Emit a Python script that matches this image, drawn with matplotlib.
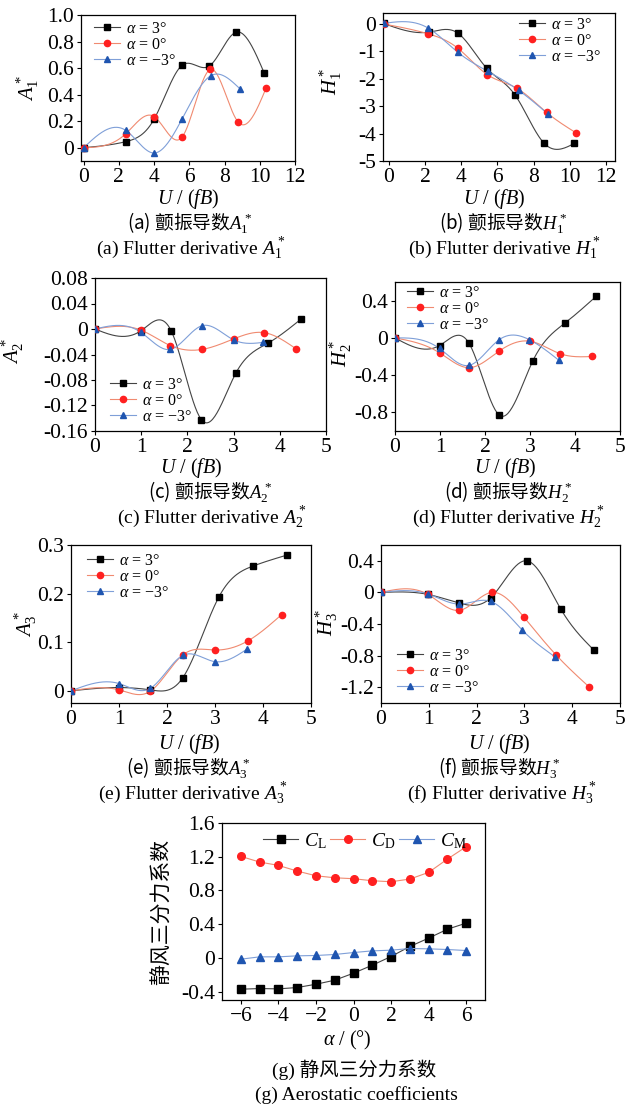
import numpy as np
import matplotlib
matplotlib.use('Agg')
import matplotlib.pyplot as plt
from matplotlib.lines import Line2D
from matplotlib.ticker import FuncFormatter, MultipleLocator

plt.rcParams['font.family'] = ['Liberation Serif', 'Noto Sans CJK SC']
plt.rcParams['mathtext.fontset'] = 'custom'
plt.rcParams['mathtext.rm'] = 'Liberation Serif'
plt.rcParams['mathtext.it'] = 'Liberation Serif:italic'
plt.rcParams['axes.unicode_minus'] = True

# ---- data ----
# (a) A1*
a_x3 = [0, 2.4, 4.0, 5.58, 7.13, 8.66, 10.26]
a_y3 = [0, 0.046, 0.215, 0.62, 0.615, 0.871, 0.56]
a_x0 = [0, 2.4, 4.0, 5.61, 7.2, 8.75, 10.36]
a_y0 = [0, 0.106, 0.235, 0.084, 0.59, 0.197, 0.45]
a_xm = [0, 2.4, 4.0, 5.6, 7.24, 8.88]
a_ym = [0, 0.13, -0.04, 0.22, 0.544, 0.443]
# (b) H1*
b_x3 = [-0.3, 2.2, 3.8, 5.4, 6.97, 8.59, 10.25]
b_y3 = [0.02, -0.3, -0.33, -1.61, -2.59, -4.36, -4.36]
b_x0 = [-0.3, 2.17, 3.8, 5.44, 7.06, 8.72, 10.34]
b_y0 = [0, -0.36, -0.88, -1.85, -2.34, -3.23, -3.97]
b_xm = [-0.3, 2.17, 3.8, 5.47, 7.17, 8.8]
b_ym = [0.02, -0.15, -1.03, -1.73, -2.42, -3.29]
# (c) A2*
c_x3 = [0, 0.99, 1.65, 2.30, 3.05, 3.75, 4.45]
c_y3 = [0, -0.003, -0.003, -0.142, -0.069, -0.022, 0.015]
c_x0 = [0, 0.99, 1.63, 2.32, 3.0, 3.66, 4.35]
c_y0 = [0, -0.0016, -0.026, -0.032, -0.0156, -0.0057, -0.031]
c_xm = [0, 0.99, 1.63, 2.31, 3.0, 3.64]
c_ym = [0, -0.005, -0.032, 0.005, -0.017, -0.021]
# (d) H2*
d_x3 = [0, 0.99, 1.64, 2.32, 3.06, 3.78, 4.47]
d_y3 = [0, -0.082, -0.054, -0.83, -0.25, 0.16, 0.446]
d_x0 = [0, 0.99, 1.64, 2.32, 3.0, 3.67, 4.37]
d_y0 = [0, -0.16, -0.32, -0.14, -0.036, -0.17, -0.2]
d_xm = [0, 0.99, 1.64, 2.32, 2.98, 3.64]
d_ym = [0, -0.114, -0.296, -0.018, -0.018, -0.24]
# (e) A3*
e_x3 = [0, 1.0, 1.65, 2.33, 3.08, 3.8, 4.49]
e_y3 = [0, 0.0068, 0.002, 0.027, 0.193, 0.257, 0.279]
e_x0 = [0, 1.0, 1.65, 2.33, 3.0, 3.69, 4.39]
e_y0 = [0, 0.002, -0.001, 0.074, 0.084, 0.103, 0.157]
e_xm = [0, 1.0, 1.65, 2.33, 3.0, 3.67]
e_ym = [0, 0.015, 0.005, 0.073, 0.06, 0.086]
# (f) H3*
f_x3 = [0, 0.98, 1.64, 2.30, 3.05, 3.76, 4.46]
f_y3 = [0, -0.025, -0.136, -0.066, 0.4, -0.21, -0.734]
f_x0 = [0, 0.98, 1.64, 2.32, 2.99, 3.66, 4.36]
f_y0 = [0, -0.025, -0.227, 0.0, -0.313, -0.79, -1.2]
f_xm = [0, 0.98, 1.64, 2.30, 2.95, 3.64]
f_ym = [0, -0.02, -0.148, -0.115, -0.474, -0.816]
# (g) aerostatic coefficients
alpha = [-6, -5, -4, -3, -2, -1, 0, 1, 2, 3, 4, 5, 6]
cl = [-0.372, -0.364, -0.368, -0.352, -0.313, -0.265, -0.182, -0.087, 0.016, 0.135, 0.234, 0.34, 0.412]
cd = [1.204, 1.137, 1.097, 1.03, 0.974, 0.95, 0.939, 0.915, 0.903, 0.935, 1.014, 1.172, 1.319]
cm = [-0.016, 0.012, 0.012, 0.024, 0.028, 0.04, 0.063, 0.083, 0.091, 0.111, 0.107, 0.099, 0.087]

labels = [r'$\alpha$ = 3°', r'$\alpha$ = 0°', r'$\alpha$ = −3°']

# marker colour, line colour, marker
styles = [('#000000', '#444444', 's'),
          ('#ff2020', '#f08a70', 'o'),
          ('#1f55b0', '#7f9fd8', '^')]

W, H = 639, 1106
fig = plt.figure(figsize=(W / 100, H / 100), dpi=100)


def add_box(l, t, r, b):
    ax = fig.add_axes([l / W, 1 - b / H, (r - l) / W, (b - t) / H])
    for s in ax.spines.values():
        s.set_linewidth(0.9)
    ax.tick_params(direction='out', length=3, width=0.8, labelsize=15.5, pad=2,
                   top=False, right=False)
    return ax


def label(x, y, s, **kw):
    kw.setdefault('fontsize', 14)
    fig.text(x / W, 1 - y / H, s, ha='center', va='center', **kw)


def captions(xl, cn, en, y, sub):
    # x label, Chinese caption and English caption under one panel
    label(xl, y - 1, sub[0], fontsize=14.5)
    label(cn, y + 23, sub[1], family='Noto Sans CJK SC', fontsize=13.5)
    label(en, y + 48, sub[2])


def spline(x, y, n=200):
    # natural cubic spline, only used to draw the connecting curve
    x = np.asarray(x, float)
    y = np.asarray(y, float)
    m = len(x)
    h = np.diff(x)
    A = np.zeros((m, m))
    r = np.zeros(m)
    A[0, 0] = A[-1, -1] = 1
    for i in range(1, m - 1):
        A[i, i - 1] = h[i - 1]
        A[i, i] = 2 * (h[i - 1] + h[i])
        A[i, i + 1] = h[i]
        r[i] = 6 * ((y[i + 1] - y[i]) / h[i] - (y[i] - y[i - 1]) / h[i - 1])
    M = np.linalg.solve(A, r)
    xs = np.linspace(x[0], x[-1], n)
    k = np.clip(np.searchsorted(x, xs) - 1, 0, m - 2)
    t0 = x[k + 1] - xs
    t1 = xs - x[k]
    hk = h[k]
    ys = (M[k] * t0 ** 3 + M[k + 1] * t1 ** 3) / (6 * hk) \
        + (y[k] / hk - M[k] * hk / 6) * t0 + (y[k + 1] / hk - M[k + 1] * hk / 6) * t1
    return xs, ys


def fmt(dec):
    def f(v, pos):
        if abs(v) < 1e-9:
            return '0'
        return ('%.' + str(dec) + 'f') % v
    return FuncFormatter(f)


def draw(ax, series, ms=4.5):
    handles = []
    for (x, y), (mc, lc, mk), lab in zip(series, styles, labels):
        xs, ys = spline(x, y)
        ax.plot(xs, ys, color=lc, lw=0.8, zorder=2)
        ax.plot(x, y, ls='none', marker=mk, ms=ms, mfc=mc, mec=mc, zorder=3)
        handles.append(Line2D([], [], color=lc, lw=0.8, marker=mk, ms=ms, mfc=mc, mec=mc, label=lab))
    return handles


def legend(ax, handles, box, x, y, loc='upper left', **kw):
    l, t, r, b = box
    ax.legend(handles=handles, loc=loc, bbox_to_anchor=((x - l) / (r - l), (b - y) / (b - t)),
              frameon=False, fontsize=11.5, borderpad=0, borderaxespad=0,
              labelspacing=0.0, handlelength=1.6, handletextpad=0.4, **kw)


UL = r'$U$ / ($fB$)'

# (a)
box = (81, 15, 295, 161)
ax = add_box(*box)
h = draw(ax, [(a_x3, a_y3), (a_x0, a_y0), (a_xm, a_ym)])
ax.set_xlim(-0.15, 12)
ax.set_ylim(-0.1, 1.0)
ax.xaxis.set_major_locator(MultipleLocator(2))
ax.yaxis.set_major_locator(MultipleLocator(0.2))
ax.yaxis.set_major_formatter(fmt(1))
legend(ax, h, box, 94, 21)
label(28, 88, r'$A_1^*$', rotation=90, fontsize=15)
captions(188, 190, 191, 200, [UL, r'(a) 颤振导数$A_1^*$', r'(a) Flutter derivative $A_1^*$'])

# (b)
box = (383, 13, 615, 161)
ax = add_box(*box)
h = draw(ax, [(b_x3, b_y3), (b_x0, b_y0), (b_xm, b_ym)])
ax.set_xlim(-0.33, 12.5)
ax.set_ylim(-5, 0.4)
ax.xaxis.set_major_locator(MultipleLocator(2))
ax.yaxis.set_major_locator(MultipleLocator(1))
ax.yaxis.set_major_formatter(fmt(0))
legend(ax, h, box, 519, 17)
label(331, 81, r'$H_1^*$', rotation=90, fontsize=15)
captions(494, 503, 504, 200, [UL, r'(b) 颤振导数$H_1^*$', r'(b) Flutter derivative $H_1^*$'])

# (c)
box = (95, 278, 326, 431)
ax = add_box(*box)
h = draw(ax, [(c_x3, c_y3), (c_x0, c_y0), (c_xm, c_ym)])
ax.set_xlim(0, 5)
ax.set_ylim(-0.16, 0.08)
ax.xaxis.set_major_locator(MultipleLocator(1))
ax.yaxis.set_major_locator(MultipleLocator(0.04))
ax.yaxis.set_major_formatter(fmt(2))
legend(ax, h, box, 110, 425, loc='lower left')
label(13, 351, r'$A_2^*$', rotation=90, fontsize=15)
captions(191, 210, 212, 469, [UL, r'(c) 颤振导数$A_2^*$', r'(c) Flutter derivative $A_2^*$'])

# (d)
box = (395, 282, 620, 431)
ax = add_box(*box)
h = draw(ax, [(d_x3, d_y3), (d_x0, d_y0), (d_xm, d_ym)])
ax.set_xlim(0, 5)
ax.set_ylim(-1.0, 0.6)
ax.xaxis.set_major_locator(MultipleLocator(1))
ax.yaxis.set_major_locator(MultipleLocator(0.4))
ax.yaxis.set_major_formatter(fmt(1))
legend(ax, h, box, 407, 285)
label(341, 353, r'$H_2^*$', rotation=90, fontsize=15)
captions(505, 508, 508, 469, [UL, r'(d) 颤振导数$H_2^*$', r'(d) Flutter derivative $H_2^*$'])

# (e)
box = (71, 545, 311, 703)
ax = add_box(*box)
h = draw(ax, [(e_x3, e_y3), (e_x0, e_y0), (e_xm, e_ym)])
ax.set_xlim(0, 5)
ax.set_ylim(-0.025, 0.3)
ax.xaxis.set_major_locator(MultipleLocator(1))
ax.yaxis.set_major_locator(MultipleLocator(0.1))
ax.yaxis.set_major_formatter(fmt(1))
legend(ax, h, box, 87, 553)
label(26, 624, r'$A_3^*$', rotation=90, fontsize=15)
captions(189, 188, 193, 745, [UL, r'(e) 颤振导数$A_3^*$', r'(e) Flutter derivative $A_3^*$'])

# (f)
box = (381, 545, 620, 703)
ax = add_box(*box)
h = draw(ax, [(f_x3, f_y3), (f_x0, f_y0), (f_xm, f_ym)])
ax.set_xlim(0, 5)
ax.set_ylim(-1.4, 0.6)
ax.xaxis.set_major_locator(MultipleLocator(1))
ax.yaxis.set_major_locator(MultipleLocator(0.4))
ax.yaxis.set_major_formatter(fmt(1))
legend(ax, h, box, 397, 696, loc='lower left')
label(327, 622, r'$H_3^*$', rotation=90, fontsize=15)
captions(499, 499, 502, 745, [UL, r'(f) 颤振导数$H_3^*$', r'(f) Flutter derivative $H_3^*$'])

# (g)
box = (222, 823, 485, 1000)
ax = add_box(*box)
gh = []
for y, (mc, lc, mk), lab in zip([cl, cd, cm], styles,
                                [r'$C_\mathrm{L}$', r'$C_\mathrm{D}$', r'$C_\mathrm{M}$']):
    ax.plot(alpha, y, color=lc, lw=0.8, marker=mk, ms=5.5, mfc=mc, mec=mc)
    gh.append(Line2D([], [], color=lc, lw=0.8, marker=mk, ms=5.5, mfc=mc, mec=mc, label=lab))
ax.set_xlim(-7, 7)
ax.set_ylim(-0.5, 1.6)
ax.xaxis.set_major_locator(MultipleLocator(2))
ax.yaxis.set_major_locator(MultipleLocator(0.4))
ax.yaxis.set_major_formatter(fmt(1))
ax.legend(handles=gh, loc='upper left', bbox_to_anchor=((263 - 222) / 263, (1000 - 831) / 177),
          ncol=3, frameon=False, fontsize=14, borderpad=0, borderaxespad=0,
          handlelength=1.8, handletextpad=0.3, columnspacing=0.2)
label(162, 912, '静风三分力系数', rotation=90, family='Noto Sans CJK SC', fontsize=15)
label(347, 1040, r'$\alpha$ / (°)', fontsize=14.5)
label(354, 1070, '(g) 静风三分力系数')
label(356, 1095, '(g) Aerostatic coefficients')

fig.savefig('out.png', dpi=100)
